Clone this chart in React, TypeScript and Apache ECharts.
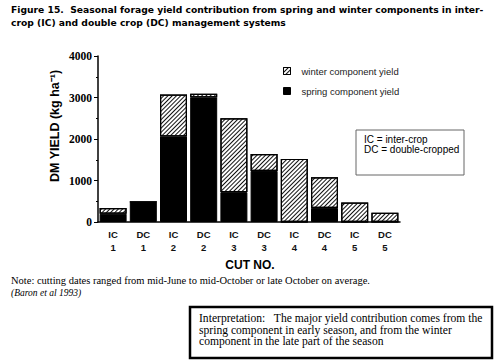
import React, { useEffect, useRef } from "react";
import * as echarts from "echarts";

const categories = ["IC\n1", "DC\n1", "IC\n2", "DC\n2", "IC\n3", "DC\n3", "IC\n4", "DC\n4", "IC\n5", "DC\n5"];
const springYield = [200, 483, 2060, 3000, 720, 1230, 0, 340, 0, 0];
const winterYield = [135, 0, 1010, 90, 1780, 410, 1520, 740, 470, 220];
const yTicks = [0, 1000, 2000, 3000, 4000];

const titleLines = [
  "Figure 15.  Seasonal forage yield contribution from spring and winter components in inter-",
  "crop (IC) and double crop (DC) management systems",
];
const interpLines = [
  "Interpretation:   The major yield contribution comes from the",
  "spring component in early season, and from the winter",
  "component in the late part of the season",
];

export default function App() {
  const ref = useRef<HTMLDivElement>(null);
  useEffect(() => {
    if (!ref.current) return;
    const chart = echarts.init(ref.current, null, { renderer: "svg" });
    const hatch = {
      symbol: "rect",
      symbolSize: 1,
      color: "#111",
      dashArrayX: [1, 0],
      dashArrayY: [1, 2],
      rotation: -Math.PI / 4,
    };
    const sans = "Liberation Sans, Arial, sans-serif";
    const serif = "Liberation Serif, Times New Roman, serif";
    chart.setOption({
      animation: false,
      backgroundColor: "#fff",
      grid: { left: 98, right: 97, top: 56, bottom: 138, containLabel: false },
      legend: {
        left: 283,
        top: 66,
        orient: "vertical",
        icon: "rect",
        itemWidth: 7,
        itemHeight: 7,
        itemGap: 10,
        padding: 0,
        data: ["winter component yield", "spring component yield"],
        textStyle: { fontFamily: sans, fontSize: 9.5, color: "#222", padding: [0, 0, 0, 6] },
        itemStyle: { borderColor: "#000", borderWidth: 1 },
      },
      xAxis: {
        type: "category",
        data: categories,
        axisLine: { lineStyle: { color: "#000", width: 1.5 } },
        axisTick: { alignWithLabel: true, length: 3, lineStyle: { color: "#000" } },
        axisLabel: {
          fontFamily: sans,
          fontWeight: "bold",
          fontSize: 9.5,
          color: "#111",
          lineHeight: 13,
          margin: 6,
        },
      },
      yAxis: {
        type: "value",
        min: 0,
        max: 4000,
        interval: 1000,
        axisLine: { show: true, lineStyle: { color: "#000", width: 1.5 } },
        axisTick: { show: true, length: 4, lineStyle: { color: "#000" } },
        minorTick: { show: true, splitNumber: 2, length: 2, lineStyle: { color: "#000" } },
        splitLine: { show: false },
        axisLabel: {
          fontFamily: serif,
          fontWeight: "bold",
          fontSize: 11.5,
          color: "#000",
          margin: 6,
          formatter: (v: number) => (yTicks.includes(v) ? String(v) : ""),
        },
      },
      series: [
        {
          name: "spring component yield",
          type: "bar",
          stack: "y",
          data: springYield,
          barWidth: 27,
          itemStyle: { color: "#000", borderColor: "#000", borderWidth: 1 },
        },
        {
          name: "winter component yield",
          type: "bar",
          stack: "y",
          data: winterYield,
          barWidth: 27,
          itemStyle: { color: "#fff", borderColor: "#000", borderWidth: 1.2, decal: hatch },
        },
      ],
      graphic: [
        {
          type: "text",
          left: 11,
          top: 3,
          style: {
            text: titleLines.join("\n"),
            fontFamily: "DejaVu Sans, Verdana, sans-serif",
            fontWeight: "bold",
            fontSize: 9.2,
            lineHeight: 13,
            fill: "#000",
          },
        },
        {
          type: "text",
          x: 55,
          y: 126,
          rotation: Math.PI / 2,
          style: {
            text: "DM YIELD (kg ha⁻¹)",
            fontFamily: sans,
            fontWeight: "bold",
            fontSize: 12.5,
            fill: "#000",
            align: "center",
            verticalAlign: "middle",
          },
        },
        {
          type: "text",
          x: 250,
          y: 265,
          style: {
            text: "CUT NO.",
            fontFamily: sans,
            fontWeight: "bold",
            fontSize: 12,
            fill: "#000",
            align: "center",
            verticalAlign: "middle",
          },
        },
        {
          type: "rect",
          shape: { x: 356, y: 130, width: 108, height: 45 },
          style: { fill: "#fff", stroke: "#666", lineWidth: 1 },
        },
        {
          type: "text",
          x: 364,
          y: 134,
          style: {
            text: "IC = inter-crop\nDC = double-cropped",
            fontFamily: sans,
            fontSize: 10,
            lineHeight: 10,
            fill: "#000",
          },
        },
        {
          type: "text",
          x: 11,
          y: 275,
          style: {
            text: "Note: cutting dates ranged from mid-June to mid-October or late October on average.",
            fontFamily: serif,
            fontSize: 10.5,
            fill: "#000",
          },
        },
        {
          type: "text",
          x: 11,
          y: 288,
          style: {
            text: "(Baron et al 1993)",
            fontFamily: serif,
            fontStyle: "italic",
            fontSize: 9.5,
            fill: "#000",
          },
        },
        {
          type: "rect",
          shape: { x: 190, y: 307, width: 302, height: 51 },
          style: { fill: "#fff", stroke: "#000", lineWidth: 2.5 },
        },
        {
          type: "text",
          x: 199,
          y: 313,
          style: {
            text: interpLines.join("\n"),
            fontFamily: serif,
            fontSize: 11.6,
            lineHeight: 11.5,
            fill: "#000",
          },
        },
      ],
    });
    return () => chart.dispose();
  }, []);
  return <div ref={ref} style={{ position: "fixed", left: 0, top: 0, width: 497, height: 360 }} />;
}
